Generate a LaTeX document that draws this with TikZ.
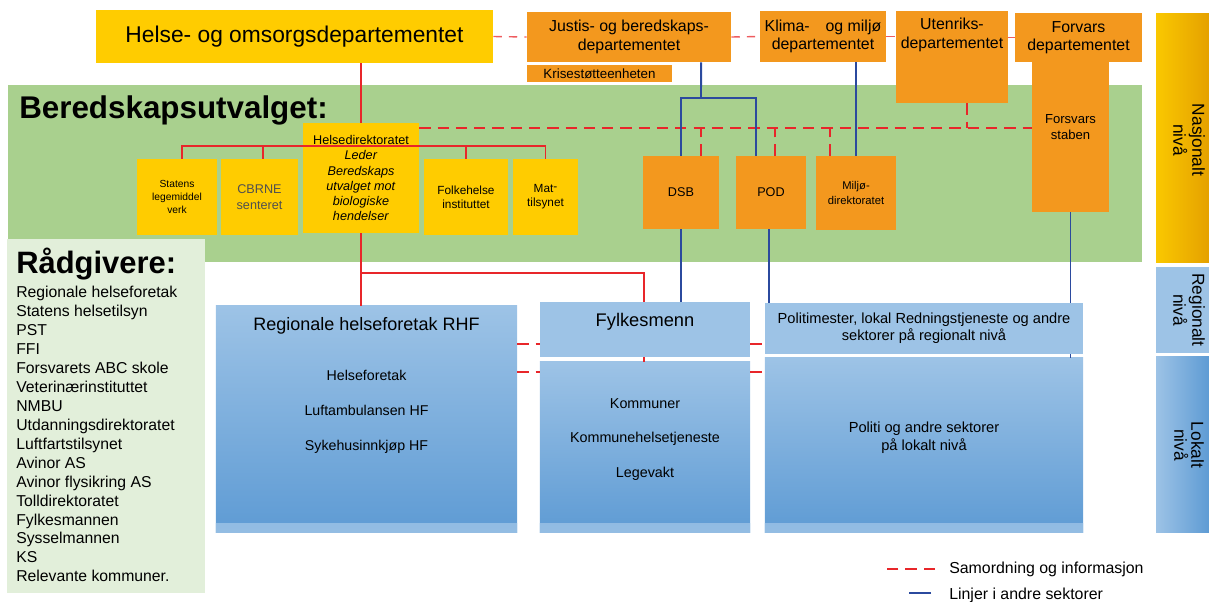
\documentclass[tikz,border=0pt]{standalone}
\usepackage{fontspec}
\setmainfont{Liberation Sans}
\usetikzlibrary{positioning}

\definecolor{hodyellow}{HTML}{FFCC00}
\definecolor{deporange}{HTML}{F3981E}
\definecolor{bugreen}{HTML}{A9D08E}
\definecolor{advgreen}{HTML}{E2EFDA}
\definecolor{lightblue}{HTML}{9DC3E6}
\definecolor{darkblue}{HTML}{5E9BD4}
\definecolor{linered}{HTML}{E8262A}
\definecolor{lineblue}{HTML}{2B4A9E}
\definecolor{natyellow}{HTML}{FAC800}
\definecolor{natorange}{HTML}{E5A100}
\definecolor{cbrnegray}{HTML}{505050}

\newcommand{\fsz}[2]{\fontsize{#1}{#2}\selectfont}

\tikzset{
  box/.style={inner sep=0pt, align=center},
  yellowbox/.style={box, fill=hodyellow},
  orangebox/.style={box, fill=deporange},
  bluebox/.style={box, fill=lightblue},
  gradbox/.style={box, top color=lightblue, bottom color=darkblue,
    path picture={\shade[top color=darkblue, bottom color=lightblue!85!darkblue]
      (path picture bounding box.south west) rectangle ([yshift=0.22cm]path picture bounding box.south east);}},
  boxtext/.style={inner sep=0pt, align=center},
  redline/.style={draw=linered, line width=1.4pt},
  reddash/.style={draw=linered, line width=1.6pt, dash pattern=on 8pt off 5pt},
  thindash/.style={draw=linered!75, line width=1pt, dash pattern=on 6pt off 5pt},
  blueline/.style={draw=lineblue, line width=1.4pt},
}

\begin{document}
\begin{tikzpicture}[x=0.025cm, y=-0.025cm]
  \useasboundingbox (0,0) rectangle (1209,601);

  % background bands
  \fill[bugreen] (8,85) rectangle (1142,262);
  \node[box, left color=natyellow, right color=natorange, minimum width=1.325cm, minimum height=6.2cm] (nasj) at (1182.5,138) {};
  \node[bluebox, minimum width=1.325cm, minimum height=2.15cm] (regniv) at (1182.5,310) {};
  \node[box, left color=lightblue, right color=darkblue, minimum width=1.325cm, minimum height=4.375cm] (lokniv) at (1182.5,444.5) {};
  \node[boxtext, rotate=-90, font=\fsz{12.3}{12}] (nasj text) at (1189,140) {Nasjonalt\\nivå};
  \node[boxtext, rotate=-90, font=\fsz{12.3}{12}] (regniv text) at (1189,310) {Regionalt\\nivå};
  \node[boxtext, rotate=-90, font=\fsz{12.3}{12}] (lokniv text) at (1189,445) {Lokalt\\nivå};

  \node[anchor=base west, inner sep=0pt, font=\fsz{22.3}{24}\bfseries] (buv) at (19,118) {Beredskapsutvalget:};

  % departementer
  \node[yellowbox, minimum width=9.925cm, minimum height=1.3cm, font=\fsz{16.2}{19}] (hod) at (294.5,36.5) {Helse- og omsorgsdepartementet};
  \node[orangebox, minimum width=5.1cm, minimum height=1.25cm, font=\fsz{11.3}{13}] (justis) at (629,37) {Justis- og beredskaps-\\departementet};
  \node[orangebox, minimum width=3.625cm, minimum height=0.425cm, font=\fsz{9.5}{11}] (krise) at (599.5,73.5) {Krisestøtteenheten};
  \node[orangebox, minimum width=3.15cm, minimum height=1.275cm, font=\fsz{11.3}{13}] (klima) at (823,36.5) {Klima-\quad og miljø\\departementet};
  \node[orangebox, minimum width=2.8cm, minimum height=2.3cm] (utenriks) at (952,57) {};
  \node[boxtext, font=\fsz{11.3}{13}] (utenriks text) at (952,35) {Utenriks-\\departementet};
  \node[orangebox, minimum width=3.175cm, minimum height=1.225cm, font=\fsz{11.3}{13}] (forvars) at (1078.5,37.5) {Forvars\\departementet};
  \node[orangebox, minimum width=1.925cm, minimum height=3.75cm] (staben) at (1070.5,137) {};
  \node[boxtext, font=\fsz{9.3}{11.9}] (staben text) at (1070.5,127) {Forsvars\\staben};

  % direktorater
  \node[yellowbox, minimum width=2.9cm, minimum height=2.75cm, font=\fsz{9}{10.7}] (helsedir) at (361,178) {Helsedirektoratet\\\textit{Leder}\\\textit{Beredskaps}\\\textit{utvalget mot}\\\textit{biologiske}\\\textit{hendelser}};
  \node[yellowbox, minimum width=2cm, minimum height=1.9cm, font=\fsz{7.3}{9.5}] (statens) at (177,197) {Statens\\legemiddel\\verk};
  \node[yellowbox, minimum width=1.925cm, minimum height=1.9cm, font=\fsz{9}{11.4}, text=cbrnegray] (cbrne) at (259.5,197) {CBRNE\\senteret};
  \node[yellowbox, minimum width=2.1cm, minimum height=1.9cm, font=\fsz{8.4}{10}] (folke) at (466,197) {Folkehelse\\instituttet};
  \node[yellowbox, minimum width=1.625cm, minimum height=1.9cm, font=\fsz{8.4}{10}] (mat) at (545.5,197) {Mat\raisebox{.45ex}{-}\\tilsynet};
  \node[orangebox, minimum width=1.9cm, minimum height=1.825cm, font=\fsz{9}{11}] (dsb) at (681,192.5) {DSB};
  \node[orangebox, minimum width=1.75cm, minimum height=1.825cm, font=\fsz{9}{11}] (pod) at (771,192.5) {POD};
  \node[orangebox, minimum width=2cm, minimum height=1.85cm, font=\fsz{8}{10.2}] (miljo) at (856,193) {Miljø-\\direktoratet};

  % raadgivere
  \node[box, fill=advgreen, minimum width=4.95cm, minimum height=8.85cm] (adv) at (106,416) {};
  \node[anchor=base west, inner sep=0pt, font=\fsz{22}{24}\bfseries] (adv title) at (16,273) {Rådgivere:};
  \node[anchor=north west, inner sep=0pt, align=left, font=\fsz{11.2}{13.5}] (adv list) at (16,285.5) {Regionale helseforetak\\Statens helsetilsyn\\PST\\FFI\\Forsvarets ABC skole\\Veterinærinstituttet\\NMBU\\Utdanningsdirektoratet\\Luftfartstilsynet\\Avinor AS\\Avinor flysikring AS\\Tolldirektoratet\\Fylkesmannen\\Sysselmannen\\KS\\Relevante kommuner.};

  % regionalt og lokalt
  \node[gradbox, minimum width=7.525cm, minimum height=5.65cm] (rhf) at (366.5,419) {};
  \node[anchor=base, inner sep=0pt, font=\fsz{12.8}{15}] (rhf title) at (366.5,330) {Regionale helseforetak RHF};
  \node[anchor=base, inner sep=0pt, font=\fsz{10.1}{12}] (rhf hf) at (366.5,380) {Helseforetak};
  \node[anchor=base, inner sep=0pt, font=\fsz{10.1}{12}] (rhf luft) at (366.5,415) {Luftambulansen HF};
  \node[anchor=base, inner sep=0pt, font=\fsz{10.1}{12}] (rhf syke) at (366.5,450) {Sykehusinnkjøp HF};

  \node[bluebox, minimum width=5.25cm, minimum height=1.375cm] (fylke) at (645,329.5) {};
  \node[anchor=base, inner sep=0pt, font=\fsz{13}{15}] (fylke text) at (645,326) {Fylkesmenn};
  \node[gradbox, minimum width=5.25cm, minimum height=4.25cm] (kommune) at (645,447) {};
  \node[anchor=base, inner sep=0pt, font=\fsz{10.2}{12}] (kommune a) at (645,408) {Kommuner};
  \node[anchor=base, inner sep=0pt, font=\fsz{10.2}{12}] (kommune b) at (645,442) {Kommunehelsetjeneste};
  \node[anchor=base, inner sep=0pt, font=\fsz{10.2}{12}] (kommune c) at (645,477) {Legevakt};

  \node[bluebox, minimum width=7.95cm, minimum height=1.275cm, font=\fsz{10.4}{12.2}] (polreg) at (924,328.5) {Politimester, lokal Redningstjeneste og andre\\sektorer på regionalt nivå};
  \node[gradbox, minimum width=7.95cm, minimum height=4.35cm] (pollok) at (924,445) {};
  \node[boxtext, font=\fsz{10.4}{12.6}] (pollok text) at (924,438) {Politi og andre sektorer\\på lokalt nivå};

  % helse linjer
  \coordinate (hdbus) at (361,146);
  \coordinate (fmbus) at (361,273);
  \draw[redline] (helsedir.north) -- (helsedir.north |- hod.south);
  \draw[redline] (helsedir.south) -- (helsedir.south |- rhf.north);
  \draw[redline] (fmbus) -| ([xshift=-0.025cm]fylke.north);
  \draw[redline] ([xshift=-0.025cm]fylke.south) -- ([xshift=-0.025cm]kommune.north);
  \draw[redline] ([xshift=0.125cm]statens.north) -- ([xshift=0.125cm]statens.north |- hdbus) -- (mat.north |- hdbus) -- (mat.north);
  \draw[redline] ([xshift=0.09cm]cbrne.north) -- ([xshift=0.09cm]cbrne.north |- hdbus);
  \draw[redline] (folke.north) -- (folke.north |- hdbus);

  % samordning
  \coordinate (natbus) at (0,128);
  \coordinate (regdash) at (0,344);
  \coordinate (lokdash) at (0,372);
  \draw[thindash] (hod.east) -- (justis.west);
  \draw[thindash] (justis.east) -- (klima.west);
  \draw[thindash] (klima.east) -- (utenriks.west |- klima.east);
  \draw[thindash] (utenriks.east |- forvars.west) -- (forvars.west);
  \draw[reddash] (helsedir.east |- natbus) -- (staben.west |- natbus);
  \draw[reddash] ([xshift=0.5cm]dsb.north) -- ([xshift=0.5cm]dsb.north |- natbus);
  \draw[reddash] ([xshift=0.1cm]pod.north) -- ([xshift=0.1cm]pod.north |- natbus);
  \draw[reddash] ([xshift=-0.65cm]miljo.north) -- ([xshift=-0.65cm]miljo.north |- natbus);
  \draw[reddash] ([xshift=0.375cm]utenriks.south) -- ([xshift=0.375cm]utenriks.south |- natbus);
  \draw[reddash] (rhf.east |- regdash) -- (fylke.west |- regdash);
  \draw[reddash] (fylke.east |- regdash) -- (polreg.west |- regdash);
  \draw[reddash] (rhf.east |- lokdash) -- (kommune.west |- lokdash);
  \draw[reddash] (kommune.east |- lokdash) -- (pollok.west |- lokdash);

  % linjer i andre sektorer
  \coordinate (jbus) at (701,98);
  \draw[blueline] ([xshift=1.8cm]justis.south) -- (jbus);
  \draw[blueline] (dsb.north) |- ([xshift=-0.375cm]pod.north |- jbus) -- ([xshift=-0.375cm]pod.north);
  \draw[blueline] (miljo.north) -- (miljo.north |- klima.south);
  \draw[blueline] (dsb.south) -- (dsb.south |- fylke.north);
  \draw[blueline] ([xshift=-0.05cm]pod.south) -- ([xshift=-0.05cm]pod.south |- polreg.north);
  \draw[blueline] (staben.south) -- (staben.south |- polreg.north);
  \draw[blueline] (staben.south |- polreg.south) -- (staben.south |- pollok.north);

  % legend
  \node[anchor=base west, inner sep=0pt, font=\fsz{11.3}{13}] (leg sam) at (949,573) {Samordning og informasjon};
  \node[anchor=base west, inner sep=0pt, font=\fsz{11.3}{13}] (leg lin) at (949,599) {Linjer i andre sektorer};
  \coordinate (leg sam end) at (935,569);
  \coordinate (leg lin end) at (931,593);
  \draw[reddash] (leg sam end) -- ++(-48,0);
  \draw[blueline] (leg lin end) -- ++(-22,0);
\end{tikzpicture}
\end{document}
